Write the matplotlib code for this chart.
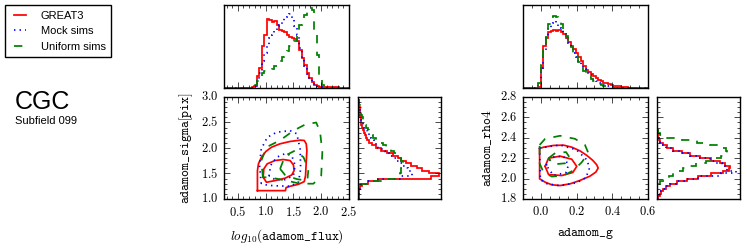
import numpy as np
import matplotlib
matplotlib.use("Agg")
import matplotlib.pyplot as plt
from matplotlib.ticker import FuncFormatter, MultipleLocator, NullLocator
from matplotlib.lines import Line2D

plt.style.use("classic")
plt.rcParams["mathtext.fontset"] = "cm"
plt.rcParams["font.family"] = ["DejaVu Sans"]

# ---------------- data ----------------
series_labels = ["GREAT3", "Mock sims", "Uniform sims"]

# left panel: log10(adamom_flux) vs adamom_sigma
flux_range = (0.25, 2.5)
sigma_range = (1.0, 3.0)
flux_ticks = [0.5, 1.0, 1.5, 2.0, 2.5]
sigma_ticks = [1.0, 1.5, 2.0, 2.5, 3.0]

flux_hist_great3 = [0,0,0,0,0,0,0,0,0,0,0, 2,5,35,60,125,160,207,205,197,
                    202,190,175,172,168,160,152,150,148,140,
                    115,90,70,45,30,18,10,5,3,3,
                    2,4,4,3,4,2,0,0,0,0]
flux_hist_mock = [0,0,0,0,0,0,0,0,0,0,0,0, 5,20,45,80,105,130,150,160,
                  172,185,190,200,212,220,222,205,185,160,
                  120,90,65,42,28,15,8,4,2,1,
                  0,0,0,0,0,0,0,0,0,0]
flux_hist_uniform = [0,0,0,0,0,0,0,0,0,0,0, 5,10,20,35,45,50,52,55,58,
                     65,75,82,92,100,110,125,135,140,160,
                     190,210,220,232,240,235,175,100,40,10,
                     2,0,0,0,0,0,0,0,0,0]

sigma_hist_great3 = [2,2,2,3,5,12,30,60,222,245,215,195,178,160,145,132,120,105,88,70,
                     55,42,34,28,24,20,17,14,12,10,9,8,6,6,5,5,4,3,2,1]
sigma_hist_mock = [2,2,2,3,5,10,25,60,130,165,160,152,145,135,125,115,105,95,82,72,
                   62,56,50,44,38,32,26,21,17,14,12,10,8,7,5,4,3,2,1,1]
sigma_hist_uniform = [1,1,1,2,3,5,30,85,120,128,130,132,135,140,138,132,128,122,110,100,
                      85,75,65,55,45,38,33,30,25,20,16,14,12,10,8,6,5,3,2,1]

# contour outlines (log10 flux, sigma)
great3_outer_flux = [0.852,0.852,0.870,0.924,1.003,1.106,1.258,1.439,1.621,1.694,1.730,
                     1.742,1.730,1.718,1.694,1.591,1.439,1.367,1.355]
great3_outer_sigma = [1.164,1.557,1.689,1.820,1.931,2.016,2.082,2.128,2.154,2.148,2.082,
                      1.951,1.721,1.459,1.341,1.289,1.249,1.223,1.164]
great3_inner_flux = [0.955,0.967,1.027,1.167,1.318,1.439,1.500,1.512,1.470,1.348,1.167,1.015]
great3_inner_sigma = [1.426,1.590,1.689,1.754,1.774,1.754,1.669,1.557,1.472,1.407,1.361,1.328]
mock_outer_flux = [0.92,0.89,0.92,1.03,1.20,1.44,1.56,1.62,1.63,1.59,1.44,1.14,0.98]
mock_outer_sigma = [1.30,1.66,1.98,2.21,2.31,2.34,2.28,1.98,1.59,1.33,1.25,1.26,1.28]
mock_inner_flux = [1.06,1.09,1.20,1.35,1.47,1.53,1.50,1.35,1.17]
mock_inner_sigma = [1.45,1.66,1.82,1.89,1.85,1.66,1.46,1.38,1.38]
uniform_outer_flux = [0.95,0.92,1.02,1.26,1.50,1.71,1.91,1.98,2.02,2.00,1.86,1.62,1.38,1.14]
uniform_outer_sigma = [1.43,1.75,2.02,2.15,2.34,2.46,2.50,2.31,1.92,1.46,1.30,1.30,1.36,1.41]
uniform_inner_flux = [1.26,1.35,1.53,1.68,1.77,1.75,1.56,1.35]
uniform_inner_sigma = [1.59,1.85,1.95,1.82,1.59,1.36,1.39,1.47]

# right panel: adamom_g vs adamom_rho4
g_range = (-0.1, 0.6)
rho4_range = (1.8, 2.8)
g_ticks = [0.0, 0.2, 0.4, 0.6]
rho4_ticks = [1.8, 2.0, 2.2, 2.4, 2.6, 2.8]

g_hist_great3 = [0,0,0,0,0,0, 3,60,125,150,
                 167,172,174,172,174,167,162,150,137,127,
                 117,104,94,82,67,54,47,42,37,30,
                 24,20,16,14,12,9,7,6,5,4,
                 3,2,1,0,0,0,0,0,0,0]
g_hist_mock = [0,0,0,0,0,0, 12,60,115,150,
               180,195,200,192,180,175,165,150,135,120,
               105,92,82,70,58,48,40,32,25,20,
               16,12,9,7,5,3,2,1,0,0,
               0,0,0,0,0,0,0,0,0,0]
g_hist_uniform = [0,0,0,0,0,0, 15,70,120,157,
                  192,214,217,212,207,192,177,157,137,122,
                  102,92,77,67,52,42,34,27,20,16,
                  12,9,6,4,3,2,1,0,0,0,
                  0,0,0,0,0,0,0,0,0,0]

rho4_hist_great3 = [4,8,12,18,28,40,60,90,125,165,200,220,222,205,190,165,130,100,75,50,
                    30,18,10,6,4,3,2,1,0,0,0,0,0,0,0,0,0,0,0,0]
rho4_hist_mock = [3,6,10,16,26,38,58,88,125,195,240,212,205,198,180,160,128,100,72,48,
                  28,16,9,5,3,2,1,0,0,0,0,0,0,0,0,0,0,0,0,0]
rho4_hist_uniform = [1,1,1,2,3,5,10,20,35,50,62,80,95,118,150,175,195,210,212,210,
                     195,160,120,75,25,8,3,1,0,0,0,0,0,0,0,0,0,0,0,0]

great3_outer_g = [-0.007,0.015,0.071,0.127,0.173,0.219,0.256,0.290,0.312,0.321,0.308,
                  0.275,0.219,0.164,0.108,0.062,0.024,-0.007]
great3_outer_rho4 = [2.295,2.308,2.325,2.328,2.308,2.272,2.229,2.180,2.137,2.104,2.064,
                     2.024,1.982,1.949,1.932,1.939,1.965,1.998]
great3_inner_g = [0.024,0.043,0.108,0.173,0.201,0.179,0.117,0.043]
great3_inner_rho4 = [2.12,2.20,2.22,2.19,2.12,2.06,2.03,2.04]
mock_outer_g = [-0.007,0.108,0.201,0.26,0.271,0.253,0.201,0.108,0.034,-0.003]
mock_outer_rho4 = [2.30,2.33,2.28,2.18,2.10,2.01,1.96,1.93,1.95,1.99]
mock_inner_g = [0.03,0.062,0.127,0.154,0.141,0.071]
mock_inner_rho4 = [2.13,2.21,2.22,2.13,2.06,2.03]
uniform_outer_g = [-0.007,0.024,0.108,0.191,0.247,0.266,0.229,0.182,0.127,0.062,0.015,-0.007]
uniform_outer_rho4 = [2.33,2.39,2.42,2.39,2.33,2.25,2.16,2.08,2.03,2.02,2.06,2.15]
uniform_inner_g = [0.043,0.08,0.141,0.164,0.136,0.071]
uniform_inner_rho4 = [2.20,2.25,2.26,2.20,2.15,2.14]

# ---------------- styling ----------------
colors = ["#ff0000", "#0000ff", "#008000"]
styles = ["-", ":", "--"]
LW = 1.25
W, H = 747.0, 249.0

def frac(x0, y0, x1, y1):
    return [x0 / W, 1 - y1 / H, (x1 - x0) / W, (y1 - y0) / H]

fig = plt.figure(figsize=(7.47, 2.49), dpi=100)
fig.patch.set_facecolor("white")

mathfmt = FuncFormatter(lambda v, p: r"$%.1f$" % v)

def style_main(ax, xr, yr, xt, yt, xminor, yminor):
    ax.set_xlim(*xr)
    ax.set_ylim(*yr)
    ax.set_xticks(xt)
    ax.set_yticks(yt)
    ax.xaxis.set_major_formatter(mathfmt)
    ax.yaxis.set_major_formatter(mathfmt)
    ax.xaxis.set_minor_locator(MultipleLocator(xminor))
    ax.yaxis.set_minor_locator(MultipleLocator(yminor))
    ax.tick_params(which="both", direction="in", top=True, right=True, labelsize=9)
    ax.tick_params(which="major", length=4)
    ax.tick_params(which="minor", length=2)

def closed(a):
    return list(a) + [a[0]]

def draw_panel(x0, xr, yr, xt, yt, xminor, yminor, xh, yh,
               contours, xlabel, ylabel):
    ax = fig.add_axes(frac(x0, 97, x0 + 125, 199))
    axt = fig.add_axes(frac(x0, 5, x0 + 125, 88))
    axr = fig.add_axes(frac(x0 + 134, 97, x0 + 217, 199))
    style_main(ax, xr, yr, xt, yt, xminor, yminor)
    for (cx, cy), c, ls in contours:
        ax.plot(closed(cx), closed(cy), color=c, ls=ls, lw=LW)
    xedges = np.linspace(xr[0], xr[1], len(xh[0]) + 1)
    yedges = np.linspace(yr[0], yr[1], len(yh[0]) + 1)
    for vals, c, ls in zip(xh, colors, styles):
        axt.stairs(vals, xedges, color=c, ls=ls, lw=LW)
    for vals, c, ls in zip(yh, colors, styles):
        axr.stairs(vals, yedges, orientation="horizontal", color=c, ls=ls, lw=LW)
    axt.set_xlim(*xr)
    axt.set_ylim(0, 249)
    axt.set_xticks(xt)
    axt.xaxis.set_minor_locator(MultipleLocator(xminor))
    axt.yaxis.set_major_locator(NullLocator())
    axt.tick_params(which="both", direction="in", top=True, bottom=True,
                    labelbottom=False, labeltop=False)
    axt.tick_params(which="major", length=4)
    axt.tick_params(which="minor", length=2)
    axr.set_ylim(*yr)
    axr.set_xlim(0, 252)
    axr.set_yticks(yt)
    axr.yaxis.set_minor_locator(MultipleLocator(yminor))
    axr.xaxis.set_major_locator(NullLocator())
    axr.tick_params(which="both", direction="in", left=True, right=True,
                    labelleft=False, labelright=False)
    axr.tick_params(which="major", length=4)
    axr.tick_params(which="minor", length=2)
    ax.set_xlabel(xlabel, fontsize=9.5, labelpad=6)
    ax.set_ylabel(ylabel, fontsize=9.5, labelpad=4)
    return ax

left_contours = [
    ((great3_outer_flux, great3_outer_sigma), colors[0], styles[0]),
    ((great3_inner_flux, great3_inner_sigma), colors[0], styles[0]),
    ((mock_outer_flux, mock_outer_sigma), colors[1], styles[1]),
    ((mock_inner_flux, mock_inner_sigma), colors[1], styles[1]),
    ((uniform_outer_flux, uniform_outer_sigma), colors[2], styles[2]),
    ((uniform_inner_flux, uniform_inner_sigma), colors[2], styles[2]),
]
right_contours = [
    ((great3_outer_g, great3_outer_rho4), colors[0], styles[0]),
    ((great3_inner_g, great3_inner_rho4), colors[0], styles[0]),
    ((mock_outer_g, mock_outer_rho4), colors[1], styles[1]),
    ((mock_inner_g, mock_inner_rho4), colors[1], styles[1]),
    ((uniform_outer_g, uniform_outer_rho4), colors[2], styles[2]),
    ((uniform_inner_g, uniform_inner_rho4), colors[2], styles[2]),
]

draw_panel(224, flux_range, sigma_range, flux_ticks, sigma_ticks, 0.1, 0.1,
           [flux_hist_great3, flux_hist_mock, flux_hist_uniform],
           [sigma_hist_great3, sigma_hist_mock, sigma_hist_uniform],
           left_contours,
           r"$log_{10}(\mathtt{adamom\_flux})$", r"$\mathtt{adamom\_sigma[pix]}$")
draw_panel(523, g_range, rho4_range, g_ticks, rho4_ticks, 0.05, 0.05,
           [g_hist_great3, g_hist_mock, g_hist_uniform],
           [rho4_hist_great3, rho4_hist_mock, rho4_hist_uniform],
           right_contours,
           r"$\mathtt{adamom\_g}$", r"$\mathtt{adamom\_rho4}$")

handles = [Line2D([], [], color=c, ls=ls, lw=LW) for c, ls in zip(colors, styles)]
leg = fig.legend(handles, series_labels, loc="upper left",
                 bbox_to_anchor=(5 / W, 1 - 5 / H), borderaxespad=0,
                 prop={"family": "Liberation Sans", "size": 8},
                 handlelength=1.7, handletextpad=1.0, labelspacing=0.5,
                 borderpad=0.5, fancybox=False, frameon=True)
leg.get_frame().set_edgecolor("black")
leg.get_frame().set_linewidth(1.0)

fig.text(15 / W, 1 - 109 / H, "CGC", fontsize=18, family="Liberation Sans",
         va="baseline", ha="left")
fig.text(15 / W, 1 - 124 / H, "Subfield 099", fontsize=8, family="Liberation Sans",
         va="baseline", ha="left")

fig.savefig("out.png", dpi=100, facecolor="white")
